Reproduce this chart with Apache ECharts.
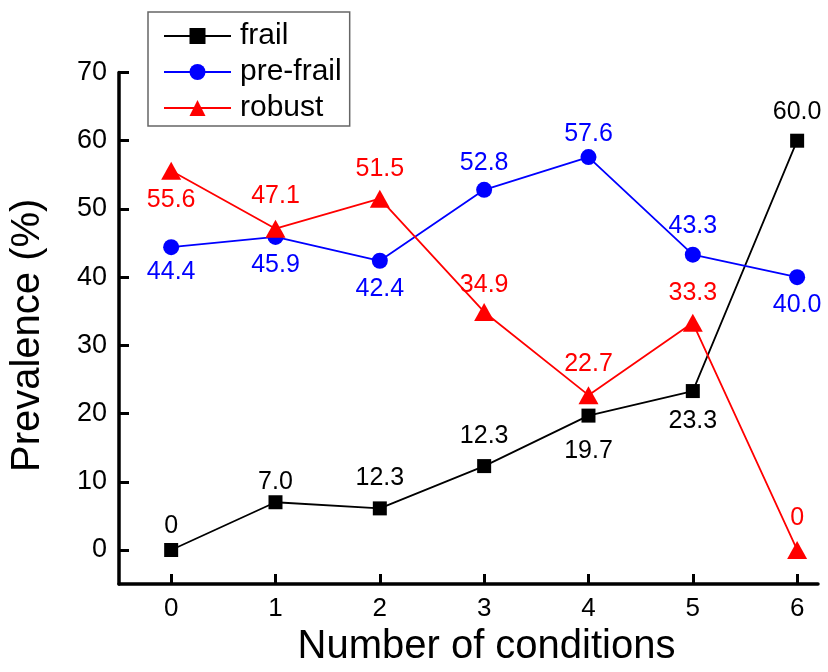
<!DOCTYPE html>
<html><head><meta charset="utf-8">
<script src="https://cdn.jsdelivr.net/npm/echarts@6/dist/echarts.min.js"></script>
<style>html,body{margin:0;padding:0;background:#fff;overflow:hidden}#c{width:828px;height:672px}</style>
</head><body><div id="c"></div>
<script>
const categories = [0, 1, 2, 3, 4, 5, 6];
const frail = [0, 7.0, 6.1, 12.3, 19.7, 23.3, 60.0];
const frailLabels = ['0', '7.0', '12.3', '12.3', '19.7', '23.3', '60.0'];
const preFrail = [44.4, 45.9, 42.4, 52.8, 57.6, 43.3, 40.0];
const preFrailLabels = ['44.4', '45.9', '42.4', '52.8', '57.6', '43.3', '40.0'];
const robust = [55.6, 47.1, 51.5, 34.9, 22.7, 33.3, 0];
const robustLabels = ['55.6', '47.1', '51.5', '34.9', '22.7', '33.3', '0'];
const yTicks = [0, 10, 20, 30, 40, 50, 60, 70];

// vertical label offsets (px) of each value label from its point (negative = above)
const frailLabelDy = [-24, -20, -30, -30, 35, 30, -29];
const preFrailLabelDy = [25, 28, 28, -27, -23, -29, 28];
const robustLabelDy = [29, -33, -30, -27, -31, -30, -32];

const FONT = '"Liberation Sans", Arial, sans-serif';

function build(vals, labels, dy) {
  return vals.map((v, i) => ({
    value: [categories[i], v],
    label: { formatter: labels[i], offset: [0, dy[i]] }
  }));
}

function series(name, vals, labels, dy, color, symbol, size) {
  return {
    name, type: 'line', data: build(vals, labels, dy),
    symbol, symbolSize: size, showAllSymbol: true,
    lineStyle: { color, width: 1.8 }, itemStyle: { color },
    label: { show: true, position: 'inside', align: 'center', verticalAlign: 'middle',
             color, fontSize: 25, fontFamily: FONT },
    emphasis: { disabled: true }, animation: false, z: 3
  };
}

const chart = echarts.init(document.getElementById('c'), null, { renderer: 'canvas', width: 828, height: 672 });
chart.setOption({
  backgroundColor: '#fff',
  animation: false,
  grid: { left: 116, right: 10, top: 72.5, bottom: 82.5, containLabel: false },
  legend: {
    left: 148, top: 12, orient: 'vertical',
    data: ['frail', 'pre-frail', 'robust'],
    itemWidth: 67, itemHeight: 20, itemGap: 6,
    padding: [9, 8, 3, 15],
    borderColor: '#666', borderWidth: 1.5,
    textStyle: { fontSize: 30, fontFamily: FONT, color: '#000', padding: [0, 0, 0, 4] }
  },
  xAxis: {
    type: 'value', min: -0.5, max: 6.2,
    name: 'Number of conditions', nameLocation: 'middle', nameGap: 23,
    nameTextStyle: { fontSize: 40, fontFamily: FONT, color: '#000', padding: [0, 0, 0, 36] },
    axisLine: { show: true, onZero: false, lineStyle: { color: '#000', width: 3.5 } },
    axisTick: { show: true, inside: true, length: 10, lineStyle: { color: '#000', width: 3 }, customValues: categories },
    axisLabel: { fontSize: 26, fontFamily: FONT, color: '#000', margin: 12, customValues: categories },
    splitLine: { show: false }
  },
  yAxis: {
    type: 'value', min: -5, max: 70,
    name: 'Prevalence (%)', nameLocation: 'middle', nameGap: 71,
    nameTextStyle: { fontSize: 40, fontFamily: FONT, color: '#000', padding: [0, 14, 0, 0] },
    axisLine: { show: true, onZero: false, lineStyle: { color: '#000', width: 3.5 } },
    axisTick: { show: true, inside: true, length: 10, lineStyle: { color: '#000', width: 3 }, customValues: yTicks },
    axisLabel: { fontSize: 27, fontFamily: FONT, color: '#000', margin: 12, customValues: yTicks },
    splitLine: { show: false }
  },
  series: [
    series('frail', frail, frailLabels, frailLabelDy, '#000000', 'rect', 14),
    series('pre-frail', preFrail, preFrailLabels, preFrailLabelDy, '#0000ff', 'circle', 16),
    series('robust', robust, robustLabels, robustLabelDy, '#ff0000', 'triangle', [20, 18])
  ]
});
</script>
</body></html>
